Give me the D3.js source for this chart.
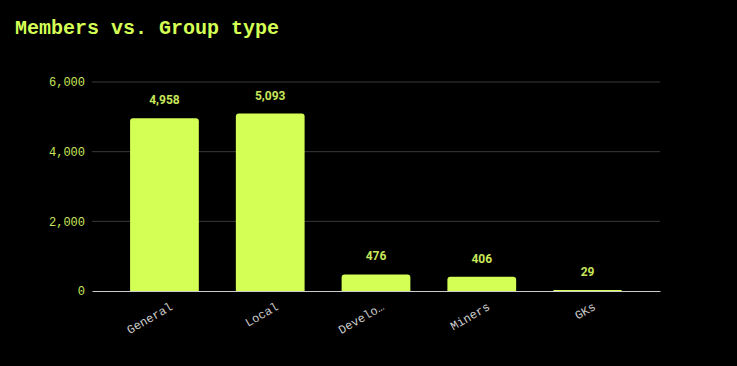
<!DOCTYPE html>
<html>
<head>
<meta charset="utf-8">
<script src="https://cdn.jsdelivr.net/npm/d3@7"></script>
<style>
  body { margin: 0; background: #000; }
</style>
</head>
<body>
<script>
const categories = ["General", "Local", "Develo…", "Miners", "GKs"];
const members = [4958, 5093, 476, 406, 29];
const yTicks = [0, 2000, 4000, 6000];

const W = 737, H = 366;
const margin = {top: 82, right: 77, bottom: 75, left: 92};
const width = W - margin.left - margin.right,
    height = H - margin.top - margin.bottom;

const svg = d3.select('body').append('svg')
    .attr('width', W)
    .attr('height', H)
    .style('background', '#000');

svg.append('text')
    .attr('x', 15)
    .attr('y', 34)
    .attr('fill', '#d4ff55')
    .attr('font-family', '"Liberation Mono", "Courier New", monospace')
    .attr('font-weight', 'bold')
    .attr('font-size', 20)
    .text('Members vs. Group type');

const g = svg.append('g')
    .attr('transform', `translate(${margin.left}, ${margin.top})`);

const scaleX = d3.scaleBand()
    .domain(categories)
    .range([0, width])
    .paddingInner(0.35)
    .paddingOuter(0.36);

const scaleY = d3.scaleLinear()
    .domain([0, 6000])
    .range([height, 0]);

// grid
g.append('g')
    .selectAll('line')
    .data(yTicks.filter(d => d > 0))
    .enter()
    .append('line')
    .attr('x1', 0)
    .attr('x2', width)
    .attr('y1', d => scaleY(d))
    .attr('y2', d => scaleY(d))
    .attr('stroke', '#3a3a3a')
    .attr('stroke-width', 1);

const yAxis = d3.axisLeft(scaleY)
    .tickValues(yTicks)
    .tickSize(0)
    .tickPadding(7)
    .tickFormat(d3.format(','));

const yAxisGroup = g.append('g')
    .attr('class', 'axis y-axis')
    .call(yAxis);
yAxisGroup.select('.domain').remove();
yAxisGroup.selectAll('text')
    .attr('fill', '#c8e65a')
    .attr('font-family', '"Liberation Mono", "Courier New", monospace')
    .attr('font-size', 12);

const r = 3;
const bars = g.append('g')
    .selectAll('path')
    .data(categories)
    .enter()
    .append('path')
    .attr('fill', '#d4ff55')
    .attr('d', (d, i) => {
        const x0 = scaleX(d), x1 = x0 + scaleX.bandwidth();
        const y0 = scaleY(members[i]), y1 = scaleY(0);
        const rr = Math.min(r, (y1 - y0));
        return `M${x0},${y1}V${y0 + rr}Q${x0},${y0} ${x0 + rr},${y0}H${x1 - rr}Q${x1},${y0} ${x1},${y0 + rr}V${y1}Z`;
    });

g.append('g')
    .selectAll('text')
    .data(categories)
    .enter()
    .append('text')
    .attr('x', d => scaleX(d) + scaleX.bandwidth() / 2)
    .attr('y', (d, i) => scaleY(members[i]) - 14)
    .attr('text-anchor', 'middle')
    .attr('fill', '#c8e65a')
    .attr('font-family', 'Roboto, "Noto Sans", sans-serif')
    .attr('font-weight', 'bold')
    .attr('font-size', 12)
    .text((d, i) => d3.format(',')(members[i]));

const xAxis = d3.axisBottom(scaleX)
    .tickSize(0)
    .tickPadding(0);

const xAxisGroup = g.append('g')
    .attr('class', 'axis x-axis')
    .attr('transform', `translate(0, ${height})`)
    .call(xAxis);
xAxisGroup.select('.domain')
    .attr('stroke', '#cccccc');
xAxisGroup.selectAll('text')
    .attr('fill', '#cccccc')
    .attr('font-family', '"Liberation Mono", "Courier New", monospace')
    .attr('font-size', 12)
    .attr('text-anchor', 'end')
    .attr('y', 0)
    .attr('dy', 0)
    .attr('transform', 'translate(9, 18) rotate(-30)');
</script>
</body>
</html>
